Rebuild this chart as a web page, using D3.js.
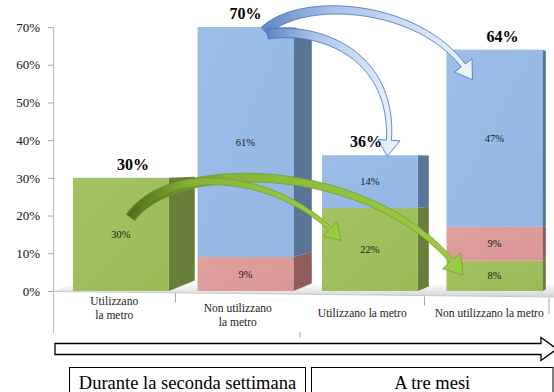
<!DOCTYPE html>
<html>
<head>
<meta charset="utf-8">
<script src="https://cdn.jsdelivr.net/npm/d3@7"></script>
<style>
  html, body { margin: 0; padding: 0; background: #fff; }
  svg { display: block; }
  svg text { font-family: "Liberation Serif", "Times New Roman", serif !important; }
</style>
</head>
<body>
<svg id="chart" width="554" height="392"></svg>
<script>
// ---------- data ----------
const categories = ["Utilizzano la metro", "Non utilizzano la metro", "Utilizzano la metro", "Non utilizzano la metro"];
const categoryLines = [["Utilizzano", "la metro"], ["Non utilizzano", "la metro"], ["Utilizzano la metro"], ["Non utilizzano la metro"]];
const groups = ["Durante la seconda settimana", "A tre mesi"];
const seriesNames = ["green", "pink", "blue"];
const greenValues = [0.30, 0.00, 0.22, 0.08];
const pinkValues  = [0.00, 0.09, 0.00, 0.09];
const blueValues  = [0.00, 0.61, 0.14, 0.47];
const totals      = [0.30, 0.70, 0.36, 0.64];
const yTicks = [0, 0.1, 0.2, 0.3, 0.4, 0.5, 0.6, 0.7];

// ---------- setup ----------
const svg = d3.select("#chart");
const W = 554, H = 392;
const fmt = d3.format(".0%");

const x = d3.scaleBand().domain(d3.range(categories.length))
  .range([66.8, 548.6]).paddingInner(0.23).paddingOuter(0.05);
const y = d3.scaleLinear().domain([0, 0.7]).range([291, 27]);
const bw = x.bandwidth();
const step = x.step();

const colors = {
  green: { front: "#9bbb59", frontHi: "#a3c262", side: "#677f38" },
  pink:  { front: "#d99694", frontHi: "#e0a09e", side: "#8e5d5c" },
  blue:  { front: "#93b6e4", frontHi: "#9dbee9", side: "#5a7497" }
};

const defs = svg.append("defs");
Object.entries(colors).forEach(([k, c]) => {
  const g = defs.append("linearGradient").attr("id", "f-" + k)
    .attr("x1", 0).attr("y1", 0).attr("x2", 1).attr("y2", 1);
  g.append("stop").attr("offset", 0).attr("stop-color", c.frontHi);
  g.append("stop").attr("offset", 1).attr("stop-color", c.front);
});
const fg = defs.append("linearGradient").attr("id", "floor").attr("x1", 0).attr("y1", 0).attr("x2", 0).attr("y2", 1);
fg.append("stop").attr("offset", 0).attr("stop-color", "#ffffff");
fg.append("stop").attr("offset", 1).attr("stop-color", "#d4d4d4");

const bg = defs.append("linearGradient").attr("id", "arrBlue").attr("x1", 0).attr("y1", 0).attr("x2", 1).attr("y2", 0);
bg.append("stop").attr("offset", 0).attr("stop-color", "#5d86c4");
bg.append("stop").attr("offset", 0.35).attr("stop-color", "#a9c4ea");
bg.append("stop").attr("offset", 1).attr("stop-color", "#eef4fc");
const gg = defs.append("linearGradient").attr("id", "arrGreen").attr("x1", 0).attr("y1", 0).attr("x2", 1).attr("y2", 0);
gg.append("stop").attr("offset", 0).attr("stop-color", "#4e6a1c");
gg.append("stop").attr("offset", 0.3).attr("stop-color", "#86b43a");
gg.append("stop").attr("offset", 1).attr("stop-color", "#9ccc43");

// ---------- floor ----------
svg.append("path")
  .attr("d", `M53,${y(0)} L76,${y(0) - 8} L${W},${y(0) - 6} L${W},${y(0) + 6} Z`)
  .attr("fill", "url(#floor)");
svg.append("line").attr("x1", 53).attr("y1", y(0) + 0.5).attr("x2", W).attr("y2", y(0) + 6)
  .attr("stroke", "#c8c8c8").attr("stroke-width", 1);

// ---------- y axis ----------
const yAxis = d3.axisLeft(y).tickValues(yTicks).tickFormat(fmt).tickSize(5).tickPadding(8);
const ga = svg.append("g").attr("transform", "translate(53,0)").call(yAxis)
  .attr("font-family", "Liberation Serif");
ga.select(".domain").remove();
ga.selectAll(".tick line").attr("stroke", "#a6a6a6");
ga.selectAll(".tick text").attr("font-size", 13).attr("fill", "#111");
svg.append("line").attr("x1", 53.5).attr("x2", 53.5).attr("y1", y(0.7)).attr("y2", 333)
  .attr("stroke", "#bfbfbf").attr("stroke-width", 1.2);

// ---------- bars ----------
const vpX = 600, kDepth = 0.06;
function sideDepth(i) { return Math.max(0, (vpX - (x(i) + bw)) * kDepth); }
function sideY(yv, d) { return yv - d * (yv - 165) * 0.0032; }

const stackData = categories.map((c, i) => {
  const vals = [greenValues[i], pinkValues[i], blueValues[i]];
  let acc = 0;
  return seriesNames.map((s, j) => {
    const seg = { i, s, v: vals[j], y0: acc, y1: acc + vals[j] };
    acc += vals[j];
    return seg;
  }).filter(d => d.v > 0);
});

const barsG = svg.append("g");
stackData.forEach((segs) => {
  segs.forEach(d => {
    const xr = x(d.i) + bw, dep = sideDepth(d.i);
    const yt = y(d.y1), yb = y(d.y0);
    barsG.append("path")
      .attr("d", `M${xr},${yt} L${xr + dep},${sideY(yt, dep)} L${xr + dep},${sideY(yb, dep)} L${xr},${yb} Z`)
      .attr("fill", colors[d.s].side);
    barsG.append("rect")
      .attr("x", x(d.i)).attr("y", yt).attr("width", bw).attr("height", yb - yt)
      .attr("fill", `url(#f-${d.s})`);
  });
});

// ---------- arrows ----------
function bez(p0, p1, p2, p3, t) {
  const u = 1 - t;
  return [u*u*u*p0[0] + 3*u*u*t*p1[0] + 3*u*t*t*p2[0] + t*t*t*p3[0],
          u*u*u*p0[1] + 3*u*u*t*p1[1] + 3*u*t*t*p2[1] + t*t*t*p3[1]];
}
function arrowPath(p0, p1, p2, p3, w0, w1, headLen, headW) {
  const N = 120, pts = [];
  for (let k = 0; k <= N; k++) pts.push(bez(p0, p1, p2, p3, k / N));
  const cum = [0];
  for (let k = 1; k <= N; k++) cum.push(cum[k-1] + Math.hypot(pts[k][0]-pts[k-1][0], pts[k][1]-pts[k-1][1]));
  const L = cum[N];
  let iH = N;
  while (iH > 1 && L - cum[iH] < headLen) iH--;
  const left = [], right = [];
  for (let k = 0; k <= iH; k++) {
    const a = pts[Math.max(0, k-1)], b = pts[Math.min(N, k+1)];
    const dx = b[0]-a[0], dy = b[1]-a[1], len = Math.hypot(dx, dy) || 1;
    const nx = -dy/len, ny = dx/len;
    const w = w0 + (w1 - w0) * (cum[k] / cum[iH]);
    left.push([pts[k][0] + nx*w/2, pts[k][1] + ny*w/2]);
    right.push([pts[k][0] - nx*w/2, pts[k][1] - ny*w/2]);
    if (k === iH) {
      left.push([pts[k][0] + nx*headW/2, pts[k][1] + ny*headW/2]);
      right.push([pts[k][0] - nx*headW/2, pts[k][1] - ny*headW/2]);
    }
  }
  let d = "M" + left.map(p => p.join(",")).join("L");
  d += "L" + p3.join(",");
  d += "L" + right.reverse().map(p => p.join(",")).join("L") + "Z";
  return d;
}

const arrowsG = svg.append("g");
{
  const s = [x(0) + 0.6 * bw, y(0.195)];
  const t1 = [x(2) + 0.2 * bw, y(greenValues[2] / 2) - 9];
  const t2 = [x(3) + 0.17 * bw, y(greenValues[3] / 2) - 1];
  arrowsG.append("path")
    .attr("d", arrowPath(s, [s[0] + 42, s[1] - 60], [t2[0] - 85, t2[1] - 118], t2, 11, 5, 17, 24))
    .attr("fill", "url(#arrGreen)").attr("stroke", "#6e9a2b").attr("stroke-width", 0.7);
  arrowsG.append("path")
    .attr("d", arrowPath(s, [s[0] + 35, s[1] - 55], [t1[0] - 60, t1[1] - 70], t1, 9, 4, 14, 20))
    .attr("fill", "url(#arrGreen)").attr("stroke", "#6e9a2b").attr("stroke-width", 0.7);
}
{
  const s = [x(1) + 0.7 * bw, y(totals[1]) + 4];
  const t3 = [x(3) + 0.27 * bw, y(totals[3]) + 30];
  const t2 = [x(2) + 0.68 * bw, y(totals[2]) + 1];
  arrowsG.append("path")
    .attr("d", arrowPath(s, [s[0] + 40, s[1] - 38], [t3[0] - 40, t3[1] - 75], t3, 10, 5, 15, 22))
    .attr("fill", "url(#arrBlue)").attr("stroke", "#3f6fb3").attr("stroke-width", 0.8);
  arrowsG.append("path")
    .attr("d", arrowPath([s[0] + 3, s[1] + 3], [s[0] + 63, s[1] - 5], [t2[0] + 15, t2[1] - 95], t2, 10, 5, 15, 22))
    .attr("fill", "url(#arrBlue)").attr("stroke", "#3f6fb3").attr("stroke-width", 0.8);
}

// ---------- segment labels ----------
const segLabels = svg.append("g");
stackData.flat().forEach(d => {
  segLabels.append("text")
    .attr("x", x(d.i) + bw / 2).attr("y", y((d.y0 + d.y1) / 2) + 3.5)
    .attr("text-anchor", "middle").attr("font-size", 10.5).attr("fill", "#1a1a1a")
    .text(fmt(d.v));
});

// ---------- total labels ----------
const totalShift = [12, 0, -4, 8];
svg.append("g").selectAll("text").data(totals).join("text")
  .attr("x", (d, i) => x(i) + bw / 2 + totalShift[i])
  .attr("y", d => y(d) - 8)
  .attr("text-anchor", "middle").attr("font-size", 16).attr("font-weight", "bold").attr("fill", "#000")
  .text(d => fmt(d));

// ---------- category axis ----------
const tickX = d3.range(categories.length).map(i => x(i) + step - 22);
const catG = svg.append("g");
categories.forEach((c, i) => {
  if (i === 1) return;
  const tx = tickX[i];
  const yb = y(0) + 1 + (tx - 53) / (W - 53) * 6;
  catG.append("line").attr("x1", tx).attr("x2", tx).attr("y1", yb).attr("y2", yb + (i === 3 ? 16 : 9))
    .attr("stroke", "#a6a6a6");
});
catG.append("line").attr("x1", tickX[1]).attr("x2", tickX[1]).attr("y1", 332).attr("y2", 338).attr("stroke", "#a6a6a6");
categories.forEach((c, i) => {
  const left = i === 0 ? 53 : tickX[i - 1];
  const right = i === categories.length - 1 ? W : tickX[i];
  const cx = (left + right) / 2;
  const lines = categoryLines[i];
  const baseY = lines.length === 2 ? (i === 0 ? 305 : 312) : 317;
  const t = catG.append("text").attr("x", cx).attr("y", baseY)
    .attr("text-anchor", "middle").attr("font-size", 11.5).attr("fill", "#222");
  lines.forEach((ln, k) => t.append("tspan").attr("x", cx).attr("dy", k === 0 ? 0 : 13.5).text(ln));
});

// ---------- time arrow ----------
svg.append("path")
  .attr("d", "M55,343.5 L541,343.5 L541,337.5 L557,349 L541,360.5 L541,354.5 L55,354.5 Z")
  .attr("fill", "#fff").attr("stroke", "#000").attr("stroke-width", 1.3);

// ---------- group boxes ----------
const groupX = [[69.5, 305.5], [311.5, 553]];
groups.forEach((g, i) => {
  svg.append("rect").attr("x", groupX[i][0]).attr("y", 367.5)
    .attr("width", groupX[i][1] - groupX[i][0]).attr("height", 30)
    .attr("fill", "#fff").attr("stroke", "#000").attr("stroke-width", 1);
  svg.append("text").attr("x", (groupX[i][0] + groupX[i][1]) / 2).attr("y", 389)
    .attr("text-anchor", "middle").attr("font-size", 18.5).attr("fill", "#000").text(g);
});
</script>
</body>
</html>
